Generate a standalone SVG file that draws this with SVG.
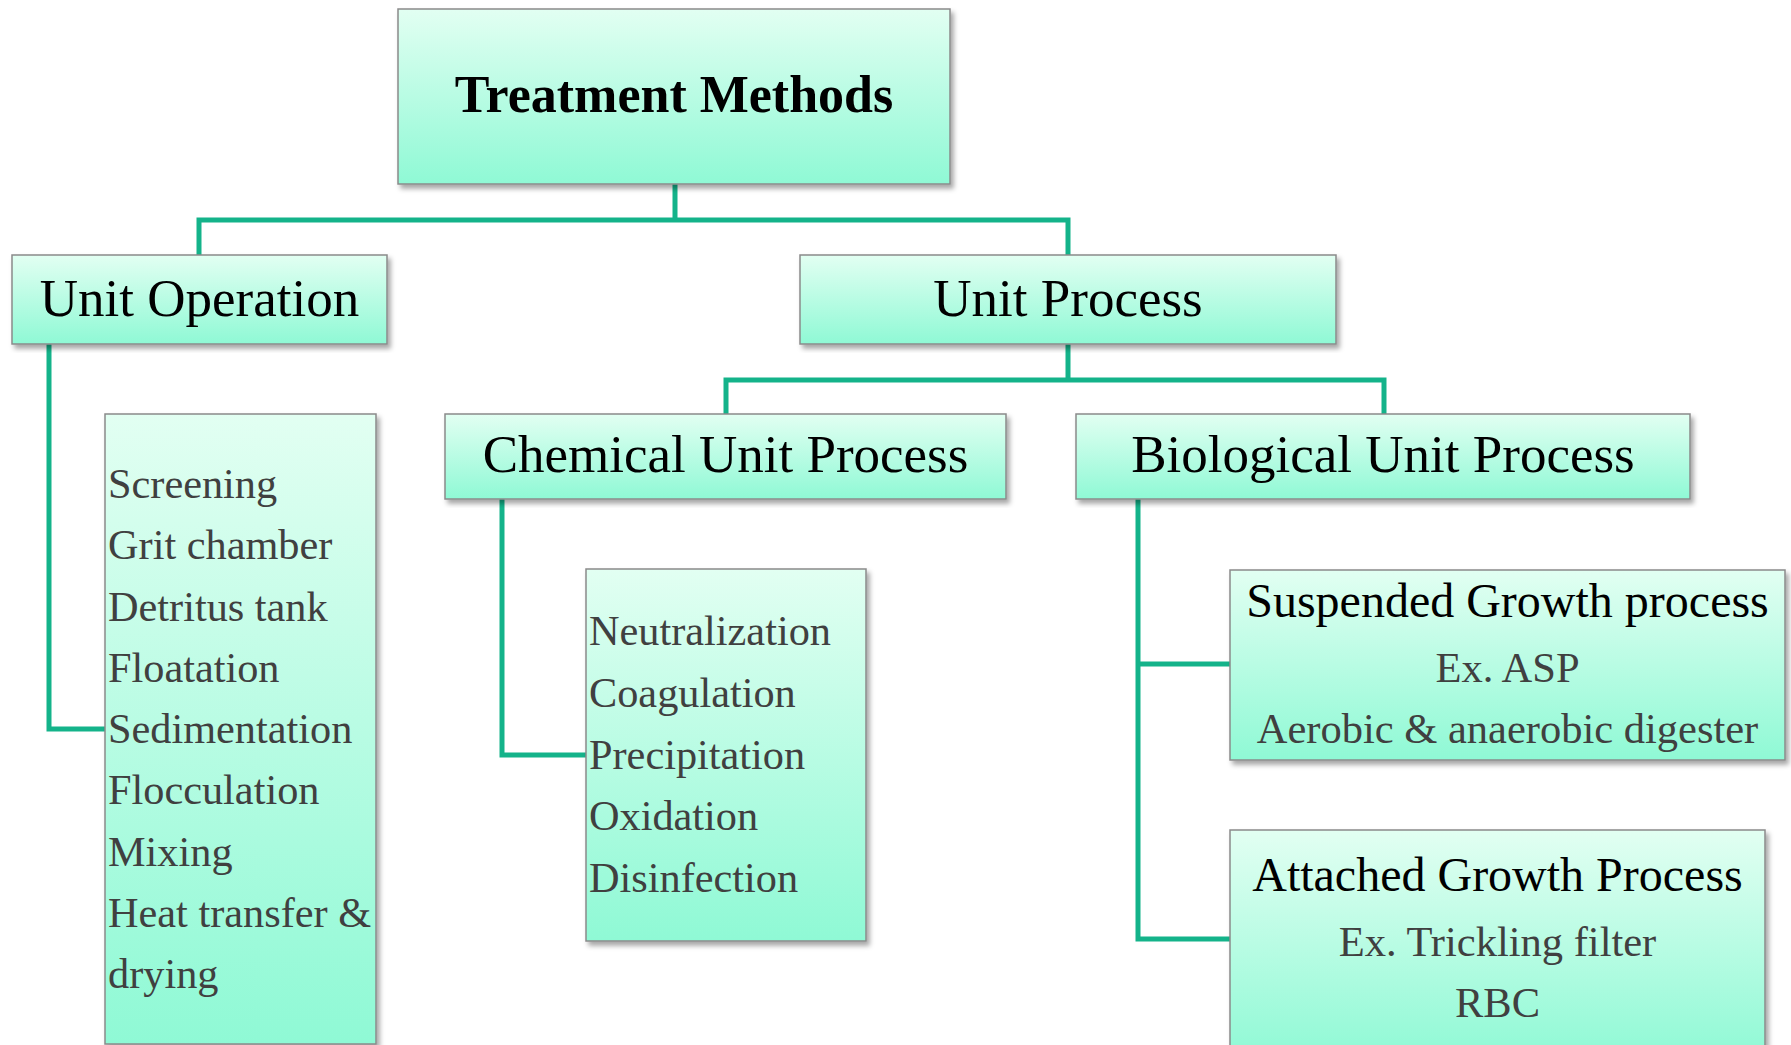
<svg xmlns="http://www.w3.org/2000/svg" width="1791" height="1045" viewBox="0 0 1791 1045">
<defs>
<linearGradient id="g" x1="0" y1="0" x2="0" y2="1">
<stop offset="0" stop-color="#e2fff2"/>
<stop offset="1" stop-color="#8ff9d5"/>
</linearGradient>
<filter id="sh" x="-5%" y="-5%" width="112%" height="115%">
<feDropShadow dx="3" dy="4" stdDeviation="2.5" flood-color="#000" flood-opacity="0.35"/>
</filter>
<style>
.box{fill:url(#g);stroke:#8a8a8a;stroke-width:1.5;filter:url(#sh)}
.t{font-family:"Liberation Serif","Times New Roman",serif;fill:#000}
.h{font-size:53px;text-anchor:middle}
.b{font-size:52px;font-weight:bold;text-anchor:middle}
.li{font-size:42.3px;fill:#404040}
.s{font-size:48px;text-anchor:middle}
.sub{font-size:42.5px;fill:#404040;text-anchor:middle}
.c{fill:none;stroke:#14b38a;stroke-width:5}
</style>
</defs>
<g id="connectors">
<path class="c" d="M675 184V220M199 255V220H1068V255"/>
<path class="c" d="M1068 344V380M726 414V380H1384V414"/>
<path class="c" d="M49 344V729H105"/>
<path class="c" d="M502 499V755H586"/>
<path class="c" d="M1138 499V939H1230M1138 664H1230"/>
</g>
<g id="treatment-methods">
<rect class="box" x="398" y="9" width="552" height="175"/>
<text class="t b" x="674" y="112">Treatment Methods</text>
</g>
<g id="unit-operation">
<rect class="box" x="12" y="255" width="375" height="89"/>
<text class="t h" x="199.5" y="316">Unit Operation</text>
</g>
<g id="unit-process">
<rect class="box" x="800" y="255" width="536" height="89"/>
<text class="t h" x="1068" y="316">Unit Process</text>
</g>
<g id="chemical-unit-process">
<rect class="box" x="445" y="414" width="561" height="85"/>
<text class="t h" x="725.5" y="472">Chemical Unit Process</text>
</g>
<g id="biological-unit-process">
<rect class="box" x="1076" y="414" width="614" height="85"/>
<text class="t h" x="1383" y="472">Biological Unit Process</text>
</g>
<g id="unit-operation-list">
<rect class="box" x="105" y="414" width="271" height="630"/>
<text class="t li" x="108" y="498">Screening</text>
<text class="t li" x="108" y="559">Grit chamber</text>
<text class="t li" x="108" y="620.5">Detritus tank</text>
<text class="t li" x="108" y="682">Floatation</text>
<text class="t li" x="108" y="743">Sedimentation</text>
<text class="t li" x="108" y="804">Flocculation</text>
<text class="t li" x="108" y="865.5">Mixing</text>
<text class="t li" x="108" y="927">Heat transfer &amp;</text>
<text class="t li" x="108" y="988">drying</text>
</g>
<g id="chemical-list">
<rect class="box" x="586" y="569" width="280" height="372"/>
<text class="t li" x="589" y="645">Neutralization</text>
<text class="t li" x="589" y="707">Coagulation</text>
<text class="t li" x="589" y="768.5">Precipitation</text>
<text class="t li" x="589" y="830">Oxidation</text>
<text class="t li" x="589" y="892">Disinfection</text>
</g>
<g id="suspended-growth">
<rect class="box" x="1230" y="570" width="555" height="190"/>
<text class="t s" x="1507.5" y="617">Suspended Growth process</text>
<text class="t sub" x="1507.5" y="682">Ex. ASP</text>
<text class="t sub" x="1507.5" y="743">Aerobic &amp; anaerobic digester</text>
</g>
<g id="attached-growth">
<rect class="box" x="1230" y="830" width="535" height="230"/>
<text class="t s" x="1497.5" y="891">Attached Growth Process</text>
<text class="t sub" x="1497.5" y="956">Ex. Trickling filter</text>
<text class="t sub" x="1497.5" y="1017">RBC</text>
</g>
</svg>
